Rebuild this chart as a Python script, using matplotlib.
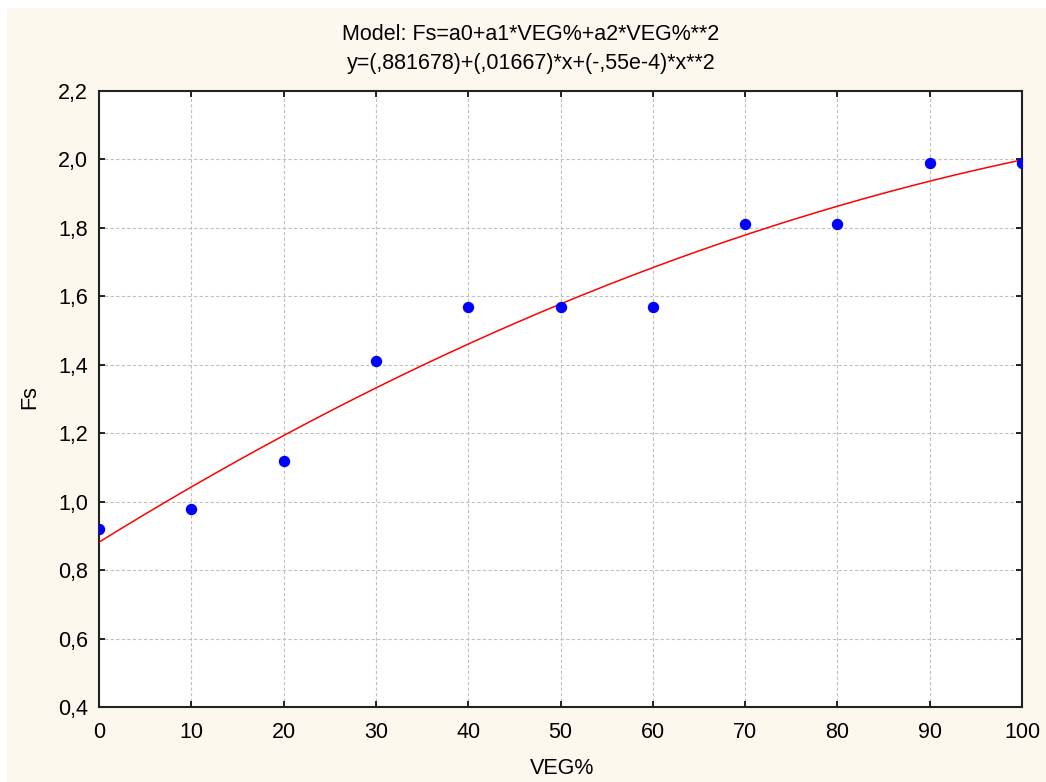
import matplotlib
matplotlib.use('Agg')
import matplotlib.pyplot as plt
import numpy as np
from matplotlib.ticker import FuncFormatter

veg = [0, 10, 20, 30, 40, 50, 60, 70, 80, 90, 100]
fs = [0.92, 0.98, 1.12, 1.41, 1.57, 1.57, 1.57, 1.81, 1.81, 1.99, 1.99]
# model coefficients as printed in the title
a0, a1, a2 = 0.881678, 0.01667, -0.55e-4

title1 = 'Model: Fs=a0+a1*VEG%+a2*VEG%**2'
title2 = 'y=(,881678)+(,01667)*x+(-,55e-4)*x**2'

plt.rcParams['font.family'] = 'Liberation Sans'

W, H = 1046, 782
fig = plt.figure(figsize=(W / 100, H / 100), dpi=100, facecolor='white')
fig.patches.append(plt.Rectangle((7 / W, 0), 1, 1 - 8 / H, transform=fig.transFigure,
                                 facecolor='#fdf8ee', edgecolor='none', zorder=-10))

ax = fig.add_axes([99 / W, 1 - 707 / H, (1022 - 99) / W, (707 - 91) / H])
ax.set_facecolor('white')

xs = np.linspace(0, 100, 200)
ax.plot(xs, a0 + a1 * xs + a2 * xs ** 2, color='red', lw=1.1, zorder=3)
ax.plot(veg, fs, 'o', color='blue', ms=7.2, zorder=4)

ax.set_xlim(0, 100)
ax.set_ylim(0.4, 2.2)
ax.set_xticks(veg)
ax.set_yticks(np.arange(0.4, 2.21, 0.2))
ax.xaxis.set_major_formatter(FuncFormatter(lambda v, p: '%d' % round(v)))
ax.yaxis.set_major_formatter(FuncFormatter(lambda v, p: ('%.1f' % v).replace('.', ',')))
ax.tick_params(direction='in', length=4, width=1.2, top=True, right=True,
               labelsize=15.5, colors='black')
ax.tick_params(axis='y', pad=8)
ax.tick_params(axis='x', pad=11)
ax.grid(True, color='#c0c0c0', linestyle=(0, (3, 2)), lw=0.8)
for s in ax.spines.values():
    s.set_linewidth(1.5)
    s.set_color('#222222')

ax.set_xlabel('VEG%', fontsize=15.5, va='center')
ax.set_ylabel('Fs', fontsize=15.5, va='center')
ax.xaxis.set_label_coords((562 - 99) / 923, (707 - 769) / 616)
ax.yaxis.set_label_coords((29.5 - 99) / 923, (707 - 397) / 616)

fig.text(531 / W, 1 - 35 / H, title1, ha='center', va='center', fontsize=15.5)
fig.text(531 / W, 1 - 63 / H, title2, ha='center', va='center', fontsize=15.5)

plt.savefig('out.png', dpi=100)
